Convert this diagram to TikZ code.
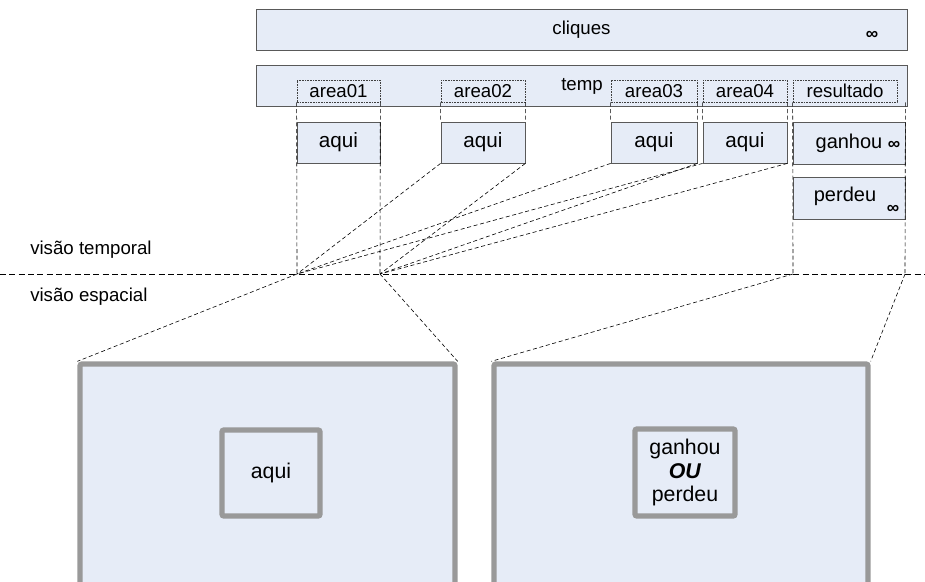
\documentclass[tikz,border=0pt]{standalone}
\usepackage{fontspec}
\setmainfont{Liberation Sans}
\usetikzlibrary{fit}
\definecolor{boxfill}{HTML}{E6ECF7}
\definecolor{bordgray}{HTML}{999999}
\begin{document}
\begin{tikzpicture}[x=0.75pt,y=-0.75pt, font=\fontsize{14}{16}\selectfont,
 box/.style={draw=black!65, fill=boxfill, line width=0.6pt, inner sep=0pt},
 dbox/.style={draw=black!75, dash pattern=on 1.2pt off 0.8pt, line width=0.5pt, inner sep=0pt},
 con/.style={dash pattern=on 3pt off 2pt, line width=0.45pt},
 hline/.style={dash pattern=on 4.5pt off 2.5pt, line width=0.6pt},
 big/.style={draw=bordgray, line width=4pt, fill=boxfill, rounded corners=1.5pt, inner sep=0pt},
 lbl/.style={inner sep=0pt},
 txt/.style={label={[lbl]center:#1}},
 qtxt/.style={label={[lbl, font=\fontsize{15.5}{17}\selectfont]center:#1}},
 inf/.style={inner sep=0pt, font=\fontsize{13}{14}\selectfont\bfseries}]
\useasboundingbox (0,0) rectangle (925,582);

% top bars
\node[box, fit={(256,9)(907,50)}, txt=cliques] (cliques) {};
\node[inf] (inf0) at (872,35) {∞};
\node[box, fit={(256,65)(907,106)}] (temp) {};
\node[lbl] (templ) at (582,86) {temp};

% dashed area labels
\node[dbox, fit={(297,80)(380,102)}, txt=area01] (a1) {};
\node[dbox, fit={(441,80)(525,102)}, txt=area02] (a2) {};
\node[dbox, fit={(611,80)(697,102)}, txt=area03] (a3) {};
\node[dbox, fit={(703,80)(787,102)}, txt=area04] (a4) {};
\node[dbox, fit={(793,80)(897,102)}, txt=resultado] (res) {};

% aqui boxes
\node[box, fit={(297,122)(380,163)}, qtxt=aqui] (q1) {};
\node[box, fit={(441,122)(525,163)}, qtxt=aqui] (q2) {};
\node[box, fit={(611,122)(697,163)}, qtxt=aqui] (q3) {};
\node[box, fit={(703,122)(787,163)}, qtxt=aqui] (q4) {};
\node[box, fit={(793,122)(905,164)}] (g) {};
\node[lbl, font=\fontsize{15}{17}\selectfont] (gt) at (849,143) {ganhou};
\node[inf] (gi) at (894,145) {∞};
\node[box, fit={(793,177)(905,219)}] (p) {};
\node[lbl, font=\fontsize{15}{17}\selectfont] (pt) at (845,196) {perdeu};
\node[inf] (pi) at (893,209) {∞};

% convergence points on the separator
\coordinate (c1) at (297,274);
\coordinate (c2) at (380,274);
\coordinate (c3) at (793,274);
\coordinate (c4) at (905,274);
\coordinate (hl) at (0,274);
\coordinate (hr) at (925,274);

% separator and labels
\draw[hline] (hl) -- (hr);
\node[lbl, anchor=west] (vt) at (30,250) {visão temporal};
\node[lbl, anchor=west] (ve) at (30,297) {visão espacial};

% vertical guide lines
\draw[con] (a1.south west) -- (c1);
\draw[con] (a1.south east) -- (c2);
\draw[con] (a2.south west) -- (q2.north west);
\draw[con] (a2.south east) -- (q2.north east);
\draw[con] (a3.south west) -- (q3.north west);
\draw[con] (a3.south east) -- (q3.north east);
\draw[con] (a4.south west) -- (q4.north west);
\draw[con] (a4.south east) -- (q4.north east);
\draw[con] (res.south west) -- (c3);
\draw[con] (res.south east -| g.east) -- (c4);

% converging lines
\draw[con] (q2.south west) -- (c1);
\draw[con] (q2.south east) -- (c2);
\draw[con] (q3.south west) -- (c1);
\draw[con] (q3.south east) -- (c2);
\draw[con] (q4.south west) -- (c1);
\draw[con] (q4.south east) -- (c2);

% big boxes
\node[big, fit={(80,364)(455,600)}] (L) {};
\node[big, fit={(222,430)(320,516)}, label={[lbl, font=\fontsize{16}{18}\selectfont]center:aqui}] (Li) {};
\node[big, fit={(494,364)(868,600)}] (R) {};
\node[big, fit={(635,429)(735,516)}] (Ri) {};
\node[lbl, align=center, font=\fontsize{16}{17.3}\selectfont] (Rt) at (Ri) {ganhou\\\textbf{\textit{OU}}\\perdeu};

% spatial projection lines
\draw[con] (c1) -- (L.north west);
\draw[con] (c2) -- (L.north east);
\draw[con] (c3) -- (R.north west);
\draw[con] (c4) -- (R.north east);
\end{tikzpicture}
\end{document}
